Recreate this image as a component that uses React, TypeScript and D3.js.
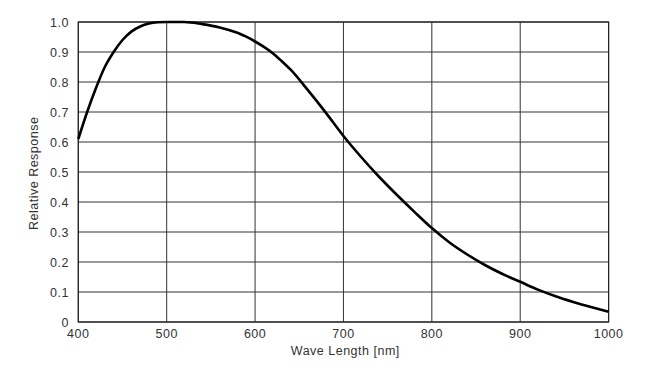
import React from "react";
import * as d3 from "d3";

const wavelengths = [400, 410, 420, 430, 440, 450, 460, 470, 480, 490, 500, 520, 540, 560, 580, 590, 600, 610, 620, 630, 640, 660, 680, 700, 720, 740, 760, 780, 800, 820, 840, 860, 880, 900, 920, 940, 960, 980, 1000];
const response = [0.61, 0.70, 0.78, 0.85, 0.90, 0.94, 0.968, 0.985, 0.995, 0.999, 1.0, 1.0, 0.993, 0.982, 0.964, 0.951, 0.935, 0.917, 0.896, 0.87, 0.842, 0.772, 0.698, 0.62, 0.55, 0.485, 0.425, 0.368, 0.313, 0.265, 0.225, 0.19, 0.16, 0.134, 0.108, 0.086, 0.067, 0.05, 0.034];
const xTicks = [400, 500, 600, 700, 800, 900, 1000];
const yTicks = [0, 0.1, 0.2, 0.3, 0.4, 0.5, 0.6, 0.7, 0.8, 0.9, 1.0];
const xTitle = "Wave Length [nm]";
const yTitle = "Relative Response";

export default function App() {
  const W = 657, H = 379;
  const left = 78.3, right = 608.6, top = 22, bottom = 322;
  const x = d3.scaleLinear().domain([400, 1000]).range([left, right]);
  const y = d3.scaleLinear().domain([0, 1]).range([bottom, top]);
  const pts = wavelengths.map((w, i) => [w, response[i]] as [number, number]);
  const line = d3.line<[number, number]>().x(d => x(d[0])).y(d => y(d[1])).curve(d3.curveMonotoneX);
  const font = "'Liberation Sans', Arial, Helvetica, sans-serif";
  const fs = 12.5;
  const ls = 0.5;
  return (
    <svg width={W} height={H} style={{ position: "absolute", left: 0, top: 0, background: "#fff" }}>
      <rect x={0} y={0} width={W} height={H} fill="#fff" />
      {xTicks.map(t => (
        <line key={"gx" + t} x1={x(t)} x2={x(t)} y1={top} y2={bottom} stroke="#333" strokeWidth={1} />
      ))}
      {yTicks.map(t => (
        <line key={"gy" + t} x1={left} x2={right} y1={y(t)} y2={y(t)} stroke="#333" strokeWidth={1} />
      ))}
      <rect x={left} y={top} width={right - left} height={bottom - top} fill="none" stroke="#222" strokeWidth={1.2} />
      <path d={line(pts) || ""} fill="none" stroke="#000" strokeWidth={2.6} strokeLinejoin="round" />
      {yTicks.map(t => (
        <text key={"ty" + t} x={69} y={y(t) + 4.5} textAnchor="end" fontFamily={font} fontSize={fs} letterSpacing={ls} fill="#333">
          {t === 0 ? "0" : t.toFixed(1)}
        </text>
      ))}
      {xTicks.map(t => (
        <text key={"tx" + t} x={x(t)} y={337.5} textAnchor="middle" fontFamily={font} fontSize={fs} letterSpacing={ls} fill="#333">
          {t}
        </text>
      ))}
      <text x={345.3} y={355} textAnchor="middle" fontFamily={font} fontSize={fs} letterSpacing={ls} fill="#333">{xTitle}</text>
      <text transform={`translate(37.5,173.3) rotate(-90)`} textAnchor="middle" fontFamily={font} fontSize={fs} letterSpacing={ls} fill="#333">{yTitle}</text>
    </svg>
  );
}
